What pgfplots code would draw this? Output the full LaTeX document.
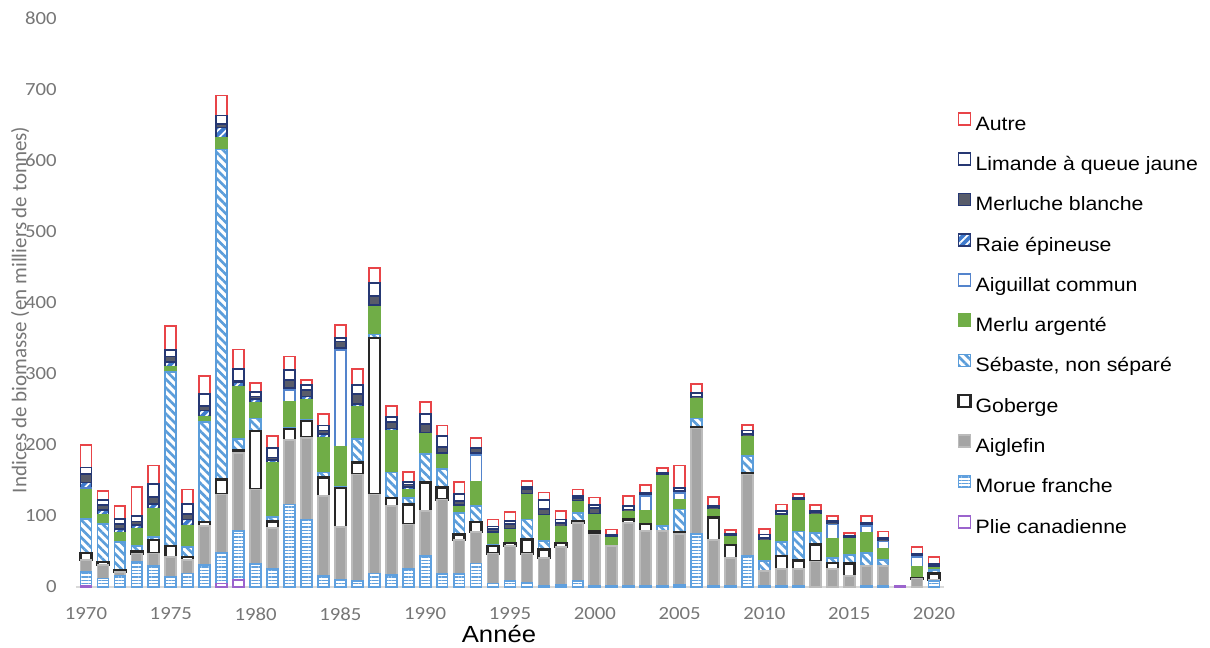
\documentclass[border=0pt]{standalone}
\usepackage{fontspec}
\setmainfont{Carlito}[FakeStretch=1.12]
\newfontfamily\legfont{Liberation Sans}[FakeStretch=1.1]
\newfontfamily\ylfont{Carlito}
\usepackage{pgfplots}
\usepackage{pgfplotstable}
\pgfplotsset{compat=1.18}
\usetikzlibrary{patterns.meta}

\definecolor{autrecol}{RGB}{232,68,72}
\definecolor{navycol}{RGB}{38,56,115}
\definecolor{merluchecol}{RGB}{88,92,106}
\definecolor{raiecol}{RGB}{62,122,205}
\definecolor{aigcol}{RGB}{84,132,204}
\definecolor{merlucol}{RGB}{112,173,71}
\definecolor{sebcol}{RGB}{91,157,218}
\definecolor{gobcol}{RGB}{40,40,40}
\definecolor{aiglcol}{RGB}{165,165,165}
\definecolor{moruecol}{RGB}{96,160,222}
\definecolor{pliecol}{RGB}{155,100,205}
\definecolor{tickgray}{RGB}{118,118,118}

\pgfplotstableread{
year plie morue aiglefin goberge sebaste merlu aiguillat raie merluche limande autre
1970 1 20 17 10 48 41 2 8 12 9 32
1971 0 12 19 4 54 12 0 7 7 7 13
1972 0 16 5 2 40 13 0 6 7 7 18
1973 0 35 12 3 8 24 0 5 5 8 41
1974 0 30 17 19 4 40 0 7 10 18 26
1975 0 14 28 16 244 7 0 7 8 9 34
1976 0 19 19 4 14 30 0 9 8 14 20
1977 0 31 55 5 141 7 0 9 7 16 26
1978 5 43 82 21 464 17 0 14 5 12 28
1979 10 69 109 4 16 73 0 7 2 16 28
1980 0 32 105 82 18 22 0 5 4 6 13
1981 0 25 58 9 6 77 0 4 3 13 17
1982 0 116 91 15 2 37 16 3 11 14 19
1983 0 95 115 23 2 28 0 5 9 7 7
1984 0 15 113 26 7 49 0 5 5 7 16
1985 0 10 74 55 2 56 136 3 9 5 18
1986 0 8 150 17 33 45 0 4 14 13 22
1987 0 19 111 220 5 39 0 3 12 18 21
1988 0 17 97 11 36 59 0 3 9 7 16
1989 0 25 63 28 9 12 0 4 3 4 14
1990 0 44 63 40 40 28 0 2 12 14 17
1991 0 18 105 17 26 20 0 2 9 15 15
1992 0 18 48 8 30 8 0 3 6 10 17
1993 0 33 44 14 23 34 38 2 7 0 15
1994 0 5 42 11 1 16 0 2 5 3 10
1995 0 8 50 4 0 19 0 1 7 4 12
1996 0 6 41 20 28 35 0 1 7 3 8
1997 0 1 40 12 12 35 0 1 9 12 11
1998 0 3 53 6 0 22 0 1 5 5 12
1999 0 8 82 2 12 16 0 1 4 3 9
2000 0 2 72 4 0 24 0 1 8 4 11
2001 0 1 57 0 0 11 0 0 3 2 7
2002 0 2 88 5 0 10 0 0 4 5 14
2003 0 1 78 10 0 18 21 0 3 2 10
2004 0 1 78 0 7 70 0 0 3 2 6
2005 0 3 72 2 32 14 9 0 3 4 32
2006 0 75 148 2 12 28 0 0 3 5 12
2007 0 1 65 32 0 11 0 0 3 2 13
2008 0 1 40 18 0 11 0 0 3 2 5
2009 0 44 114 2 24 27 0 0 4 5 8
2010 0 1 22 0 14 28 0 0 4 5 8
2011 0 2 23 19 19 37 0 0 3 4 9
2012 0 1 24 12 41 43 0 0 3 2 5
2013 0 0 36 24 16 26 0 0 3 2 8
2014 0 0 25 9 7 27 20 0 3 2 7
2015 0 0 15 18 12 22 0 0 3 2 4
2016 0 1 29 0 18 28 10 0 2 2 10
2017 0 1 29 0 8 15 11 0 3 2 9
2018 2 0 0 0 0 0 0 0 0 0 0
2019 0 0 12 1 0 15 14 0 2 2 10
2020 0 8 2 9 5 3 0 0 3 2 10
}\data

\pgfplotsset{
  sq/.style={legend image code/.code={\draw[##1] (0pt,-1.2pt) rectangle (9pt,7.8pt);}},
}

\begin{document}
\begin{tikzpicture}[x=1pt,y=1pt]
\useasboundingbox (0,0) rectangle (907.5,485.25);
\begin{axis}[
  at={(56.85pt,45pt)}, anchor=south west,
  scale only axis, width=651.3pt, height=426.75pt,
  xmin=1969.4, xmax=2020.6, ymin=0, ymax=800,
  ybar stacked, bar width=8.2pt,
  axis lines*=left,
  x axis line style={draw=black!15, line width=0.8pt},
  y axis line style={draw=none},
  major tick length=0pt,
  xtick={1970,1975,...,2020},
  ytick={0,100,...,800},
  /pgf/number format/1000 sep={},
  /pgf/number format/assume math mode=true,
  tick label style={font=\fontsize{13.9}{14}\selectfont, text=tickgray},
  yticklabel style={anchor=east, inner sep=0pt, xshift=-14.1pt},
  xticklabel style={anchor=center, inner sep=0pt, yshift=-20.25pt},
  ylabel={Indices de biomasse (en milliers de tonnes)},
  ylabel style={font=\ylfont\fontsize{15.75}{16}\selectfont, text=tickgray, at={(axis description cs:-0.0640,0.487)}, anchor=center},
  xlabel={Année},
  xlabel style={font=\legfont\fontsize{17.5}{18}\selectfont, at={(axis description cs:0.4873,-0.0984)}, anchor=base},
  reverse legend,
  legend cell align=left,
  legend style={at={(axis description cs:1.0101,0.840)}, anchor=north west, draw=none, fill=none,
    font=\legfont\fontsize{14.5}{15}\selectfont, row sep=16.5pt,
    nodes={inner sep=0pt, text height=10.5pt, text depth=0pt},
    /tikz/every odd column/.append style={column sep=3pt}},
]
\addplot[sq, fill=white, draw=pliecol, line width=1.3pt] table[x=year,y=plie]{\data};
\addlegendentry{Plie canadienne}
\addplot[sq, draw=moruecol, line width=1.3pt, pattern={Lines[angle=0,distance=2.5pt,line width=1pt]}, pattern color=moruecol] table[x=year,y=morue]{\data};
\addlegendentry{Morue franche}
\addplot[sq, fill=aiglcol, draw=aiglcol!75!white, line width=1.3pt] table[x=year,y=aiglefin]{\data};
\addlegendentry{Aiglefin}
\addplot[sq, fill=white, draw=gobcol, line width=1.8pt] table[x=year,y=goberge]{\data};
\addlegendentry{Goberge}
\addplot[sq, draw=sebcol, line width=1.3pt, pattern={Lines[angle=-45,distance=4.6pt,line width=2pt]}, pattern color=sebcol] table[x=year,y=sebaste]{\data};
\addlegendentry{Sébaste, non séparé}
\addplot[sq, fill=merlucol, draw=merlucol, line width=1.3pt] table[x=year,y=merlu]{\data};
\addlegendentry{Merlu argenté}
\addplot[sq, fill=white, draw=aigcol, line width=1.3pt] table[x=year,y=aiguillat]{\data};
\addlegendentry{Aiguillat commun}
\addplot[sq, preaction={fill=raiecol}, pattern={Lines[angle=45,distance=4.4pt,line width=1.3pt]}, pattern color=white, draw=navycol, line width=1.3pt] table[x=year,y=raie]{\data};
\addlegendentry{Raie épineuse}
\addplot[sq, fill=merluchecol, draw=navycol, line width=1.3pt] table[x=year,y=merluche]{\data};
\addlegendentry{Merluche blanche}
\addplot[sq, fill=white, draw=navycol, line width=1.3pt] table[x=year,y=limande]{\data};
\addlegendentry{Limande à queue jaune}
\addplot[sq, fill=white, draw=autrecol, line width=1.3pt] table[x=year,y=autre]{\data};
\addlegendentry{Autre}
\end{axis}
\end{tikzpicture}
\end{document}
